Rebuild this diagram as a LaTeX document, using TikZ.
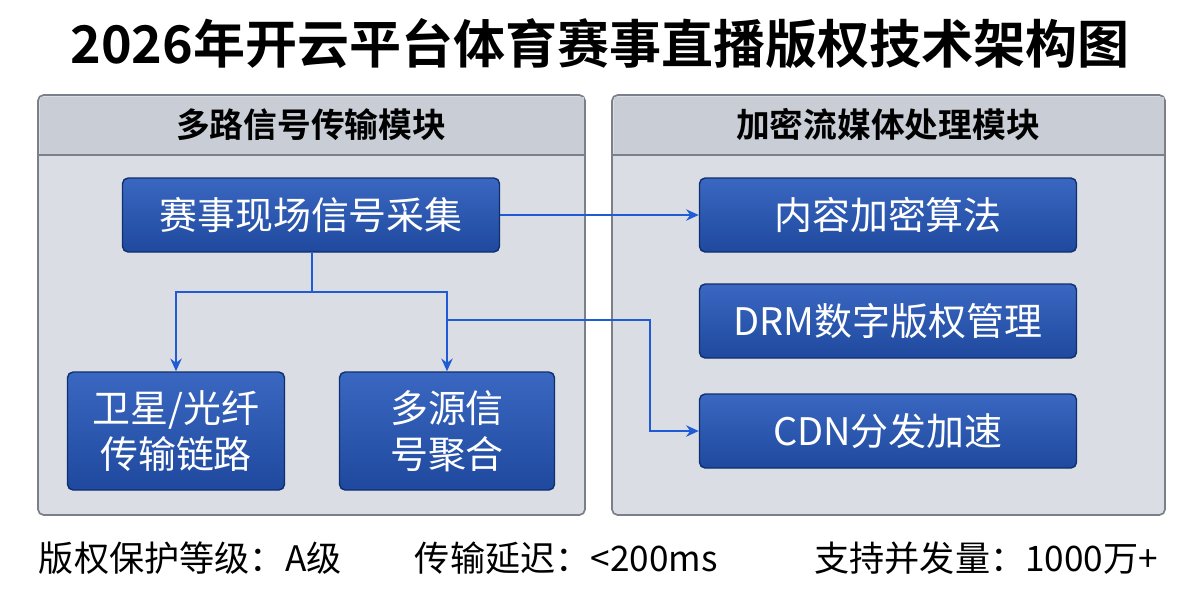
\documentclass[tikz,border=0pt]{standalone}
\usepackage{fontspec}
\setmainfont{Noto Sans CJK SC}
\newfontfamily\cjkbold{Noto Sans CJK SC Bold}
\usetikzlibrary{arrows.meta, positioning, calc}
\definecolor{linkblue}{HTML}{1F5BD6}
\definecolor{boxblue}{HTML}{2456BA}
\definecolor{boxedge}{HTML}{0F2F6E}
\definecolor{panelgray}{HTML}{DADDE3}
\definecolor{headgray}{HTML}{C9CDD5}
\definecolor{paneledge}{HTML}{7A7F8A}
\begin{document}
\begin{tikzpicture}[x=0.025cm, y=-0.025cm,
  panel/.style={draw=paneledge, line width=1.2pt, fill=panelgray, rounded corners=4pt},
  head/.style={font=\cjkbold\fontsize{24}{28}\selectfont, text=black},
  box/.style={draw=boxedge, line width=1pt, top color=boxblue!90!white, bottom color=boxblue!85!black, rounded corners=4pt, text=white, font=\fontsize{27}{33}\selectfont, align=center, inner sep=0pt},
  arrow/.style={-{Stealth[length=9pt,width=8pt]}, draw=linkblue, line width=1.6pt}
]
\useasboundingbox (0,0) rectangle (1200,600);
\fill[white] (0,0) rectangle (1200,600);

% TITLE
\node[font=\cjkbold\fontsize{37}{44}\selectfont] (title) at (600,44) {2026年开云平台体育赛事直播版权技术架构图};

% PANELS
\draw[panel] (38,95) rectangle (585,515);
\fill[headgray] (39.5,96.5) rectangle (583.5,155);
\draw[paneledge, line width=1pt] (38,155) -- (585,155);
\node[head] (lefthead) at (311,125) {多路信号传输模块};
\draw[panel] (612,95) rectangle (1165,515);
\fill[headgray] (613.5,96.5) rectangle (1163.5,155);
\draw[paneledge, line width=1pt] (612,155) -- (1165,155);
\node[head] (righthead) at (888,125) {加密流媒体处理模块};

% SIGNAL BOXES
\node[box, minimum width=377*0.025cm, minimum height=74*0.025cm] (collect) at (311,215) {赛事现场信号采集};
\node[box, minimum width=217*0.025cm, minimum height=118*0.025cm] (satellite) at (176,431) {卫星/光纤\\传输链路};
\node[box, minimum width=215*0.025cm, minimum height=118*0.025cm] (merge) at (447,431) {多源信\\号聚合};

% STREAM BOXES
\node[box, minimum width=377*0.025cm, minimum height=74*0.025cm] (encrypt) at (888,215) {内容加密算法};
\node[box, minimum width=377*0.025cm, minimum height=74*0.025cm] (drm) at (888,321) {DRM数字版权管理};
\node[box, minimum width=377*0.025cm, minimum height=74*0.025cm] (cdn) at (888,431) {CDN分发加速};

% CONNECTIONS
\coordinate (split) at (312,292);
\coordinate (tap) at (447,320);
\draw[arrow] (collect.east) -- (encrypt.west);
\draw[draw=linkblue, line width=1.6pt] (collect.south -| split) -- (split);
\draw[arrow] (split) -| (satellite.north);
\draw[arrow] (split) -| (merge.north);
\draw[arrow] (tap) -| (650,320) |- (cdn.west);

% FOOTER
\node[font=\fontsize{25}{30}\selectfont, anchor=west] (level) at (34,558) {版权保护等级：A级};
\node[font=\fontsize{25}{30}\selectfont, anchor=west] (delay) at (410,558) {传输延迟：<200ms};
\node[font=\fontsize{25}{30}\selectfont, anchor=east] (load) at (1163,558) {支持并发量：1000万+};
\end{tikzpicture}
\end{document}
